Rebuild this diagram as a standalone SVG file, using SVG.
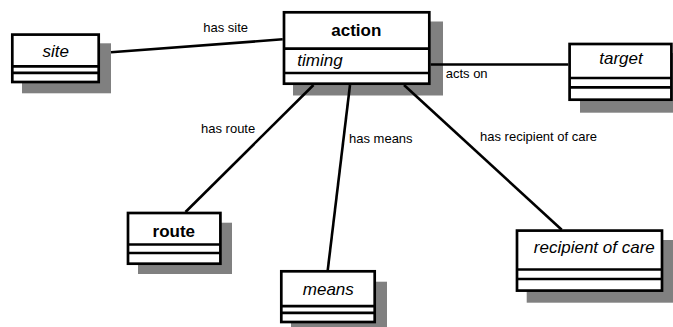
<svg xmlns="http://www.w3.org/2000/svg" width="673" height="327" viewBox="0 0 673 327">
<style>
.bg{fill:#ffffff}
.shadow{fill:#808080;stroke:none}
.box{fill:#ffffff;stroke:#000000;stroke-width:2.7}
.sep{stroke:#000000;stroke-width:2.7}
.conn{stroke:#000000;stroke-width:2.6;fill:none}
.name{font-family:"Liberation Sans",Arial,sans-serif;font-size:17px;fill:#000000}
.it{font-style:italic}
.bd{font-weight:bold}
.lbl{font-family:"Liberation Sans",Arial,sans-serif;font-size:13px;fill:#000000}
</style>
<rect class="bg" x="0" y="0" width="673" height="327"/>
<g id="site">
<rect class="shadow" x="22" y="43.3" width="89" height="50"/>
<rect class="box" x="12.3" y="34.6" width="86.4" height="47.4"/>
<line class="sep" x1="12.3" y1="66.4" x2="98.7" y2="66.4"/>
<line class="sep" x1="12.3" y1="72.9" x2="98.7" y2="72.9"/>
<text class="name it" x="55.8" y="57.3" text-anchor="middle">site</text>
</g>
<g id="action">
<rect class="shadow" x="293" y="21.5" width="150" height="74"/>
<rect class="box" x="284" y="12.3" width="145.3" height="71.4"/>
<line class="sep" x1="284" y1="48.7" x2="429.3" y2="48.7"/>
<line class="sep" x1="284" y1="73" x2="429.3" y2="73"/>
<text class="name bd" x="356.3" y="35.7" text-anchor="middle">action</text>
<text class="name it" x="297.3" y="65.5">timing</text>
</g>
<g id="target">
<rect class="shadow" x="580" y="53" width="104" height="59.7"/>
<rect class="box" x="569.6" y="44" width="101.8" height="55.7"/>
<line class="sep" x1="569.6" y1="78" x2="671.4" y2="78"/>
<line class="sep" x1="569.6" y1="87.3" x2="671.4" y2="87.3"/>
<text class="name it" x="621" y="64.3" text-anchor="middle">target</text>
</g>
<g id="route">
<rect class="shadow" x="138" y="222.7" width="94" height="51.3"/>
<rect class="box" x="128" y="213" width="92.4" height="50.7"/>
<line class="sep" x1="128" y1="244.5" x2="220.4" y2="244.5"/>
<line class="sep" x1="128" y1="253" x2="220.4" y2="253"/>
<text class="name bd" x="173.8" y="236.7" text-anchor="middle">route</text>
</g>
<g id="means">
<rect class="shadow" x="291" y="281.7" width="96" height="53"/>
<rect class="box" x="281.3" y="271.3" width="93.4" height="50.7"/>
<line class="sep" x1="281.3" y1="306.2" x2="374.7" y2="306.2"/>
<line class="sep" x1="281.3" y1="312.9" x2="374.7" y2="312.9"/>
<text class="name it" x="328.3" y="295" text-anchor="middle">means</text>
</g>
<g id="recipient">
<rect class="shadow" x="526.7" y="240" width="148" height="62.7"/>
<rect class="box" x="517" y="230.6" width="145" height="60"/>
<line class="sep" x1="517" y1="269.5" x2="662" y2="269.5"/>
<line class="sep" x1="517" y1="279" x2="662" y2="279"/>
<text class="name it" x="594.3" y="253.3" text-anchor="middle">recipient of care</text>
</g>
<g id="connectors">
<line class="conn" x1="111" y1="52.3" x2="282.7" y2="39.3"/>
<line class="conn" x1="430.7" y1="64.5" x2="568.3" y2="64.5"/>
<line class="conn" x1="313.5" y1="85" x2="185.5" y2="212"/>
<line class="conn" x1="350" y1="85" x2="327.7" y2="270.5"/>
<line class="conn" x1="404" y1="85" x2="561.7" y2="229.7"/>
<text class="lbl" x="203.3" y="32.3">has site</text>
<text class="lbl" x="445.7" y="77.5">acts on</text>
<text class="lbl" x="201" y="133.3">has route</text>
<text class="lbl" x="349" y="143.3">has means</text>
<text class="lbl" x="480" y="141">has recipient of care</text>
</g>
</svg>
